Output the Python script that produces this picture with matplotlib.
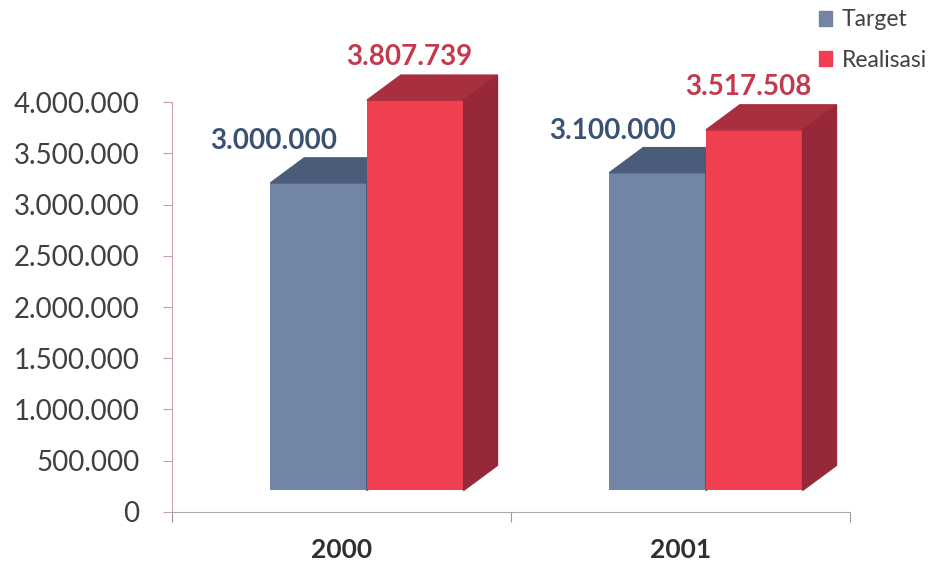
import numpy as np
import matplotlib.pyplot as plt
from matplotlib.patches import Polygon, Patch

plt.rcParams['font.family'] = ['Lato', 'DejaVu Sans']

years = ["2000", "2001"]
target = [3000000, 3100000]
realisasi = [3807739, 3517508]
yticks = [0, 500000, 1000000, 1500000, 2000000, 2500000, 3000000, 3500000, 4000000]

# warna
c_target = ['#7285a6', '#4b5b7a', '#3d4b66']
c_real = ['#f0404f', '#a8303e', '#96283a']
txt_target = '#3c5274'
txt_real = '#c33a4e'
axis_col = '#c8a2aa'

def fmt(v):
    return f"{v:,.0f}".replace(",", ".")

fig = plt.figure(figsize=(9.38, 5.63), dpi=100)
ax = fig.add_axes([0.1834, 0.0906, 0.7228, 0.7282])

x = np.arange(len(years)) + 0.5
w = 0.285
base = 210000     # kaki bar (efek 3D)
dx, dy = 0.1, 245000

def box(x0, val, cols):
    ax.bar(x0, val, width=w, bottom=base, align='edge', color=cols[0], clip_on=False, zorder=3)
    top = base + val
    ax.add_patch(Polygon([(x0, top), (x0 + dx, top + dy), (x0 + w + dx, top + dy), (x0 + w, top)],
                         closed=True, color=cols[1], clip_on=False, zorder=3))
    ax.add_patch(Polygon([(x0 + w, base), (x0 + w + dx, base + dy), (x0 + w + dx, top + dy), (x0 + w, top)],
                         closed=True, color=cols[2], clip_on=False, zorder=3))

for i in range(len(years)):
    xt = x[i] - 0.21
    xr = xt + w
    box(xt, target[i], c_target)
    box(xr, realisasi[i], c_real)
    ax.text(xt + 0.01, base + target[i] + 280000, fmt(target[i]), ha='center', va='bottom',
            fontsize=20, fontweight='bold', color=txt_target)
    ax.text(xr + 0.125, base + realisasi[i] + 290000, fmt(realisasi[i]), ha='center', va='bottom',
            fontsize=20, fontweight='bold', color=txt_real)

ax.set_xlim(0, 2)
ax.set_ylim(0, 4000000)
ax.set_yticks(yticks)
ax.set_yticklabels([fmt(v) for v in yticks], fontsize=20, color='#404040')
ax.set_xticks([0, 1, 2])
ax.set_xticklabels([])
ax.tick_params(axis='y', length=6.5, color=axis_col, pad=17)
ax.tick_params(axis='x', length=7, color='#999999')
for i, yr in enumerate(years):
    ax.text(x[i], -0.093, yr, transform=ax.get_xaxis_transform(), ha='center', va='center',
            fontsize=19, fontweight='bold', color='#303030')

for s in ['top', 'right']:
    ax.spines[s].set_visible(False)
ax.spines['left'].set_color(axis_col)
ax.spines['bottom'].set_color('#aaaaaa')

handles = [Patch(color=c_target[0], label='Target'), Patch(color=c_real[0], label='Realisasi')]
fig.legend(handles=handles, loc='upper right', bbox_to_anchor=(1.01, 1.02), frameon=False,
           fontsize=16.5, handlelength=0.6, handleheight=0.6, handletextpad=0.4, labelspacing=0.85,
           labelcolor='#404040')

plt.savefig("out.png")
plt.close()
